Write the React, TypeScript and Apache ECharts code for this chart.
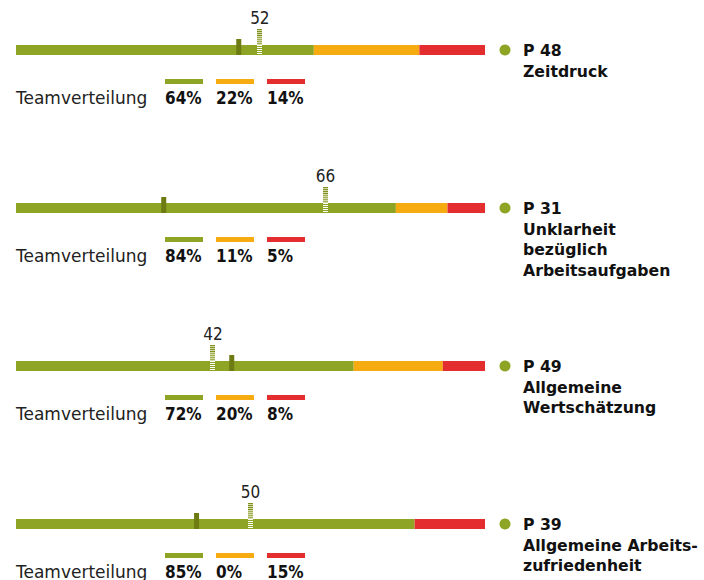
import React, { useEffect, useRef } from 'react';
import * as echarts from 'echarts';

const codes = ['P 48', 'P 31', 'P 49', 'P 39'];
const titles = [
  ['Zeitdruck'],
  ['Unklarheit', 'bezüglich', 'Arbeitsaufgaben'],
  ['Allgemeine', 'Wertschätzung'],
  ['Allgemeine Arbeits-', 'zufriedenheit'],
];
const greenShare = [63.5, 81, 72, 85];
const orangeShare = [22.5, 11, 19, 0];
const redShare = [14, 8, 9, 15];
const teamMarker = [47.5, 31.5, 46, 38.5];
const benchmark = [52, 66, 42, 50];
const teamLabels = [
  ['64%', '22%', '14%'],
  ['84%', '11%', '5%'],
  ['72%', '20%', '8%'],
  ['85%', '0%', '15%'],
];
const legendName = 'Teamverteilung';

const GREEN = '#8ea425';
const ORANGE = '#f6ac10';
const RED = '#e42d2e';
const DARK = '#6d7b12';
const FONT = '"DejaVu Sans", sans-serif';
const CFONT = '"DejaVu Sans Condensed", "DejaVu Sans", sans-serif';

export default function App() {
  const ref = useRef<HTMLDivElement>(null);
  useEffect(() => {
    const chart = echarts.init(ref.current!, null, { renderer: 'svg' });
    const grid: any[] = [];
    const xAxis: any[] = [];
    const yAxis: any[] = [];
    const series: any[] = [];
    const graphic: any[] = [];
    const segColors = [GREEN, ORANGE, RED];
    const segArrays = [greenShare, orangeShare, redShare];

    codes.forEach((code, i) => {
      const top = 45 + i * 158;
      grid.push({ left: 16, top, width: 469, height: 10 });
      xAxis.push({ type: 'value', min: 0, max: 100, gridIndex: i, show: false });
      yAxis.push({ type: 'category', data: [code], gridIndex: i, show: false });
      segArrays.forEach((arr, k) => {
        series.push({
          type: 'bar',
          xAxisIndex: i,
          yAxisIndex: i,
          stack: 'st' + i,
          barWidth: 10,
          data: [arr[i]],
          itemStyle: { color: segColors[k] },
          silent: true,
        });
      });
      // team marker (dark)
      series.push({
        type: 'custom',
        xAxisIndex: i,
        yAxisIndex: i,
        data: [[teamMarker[i], 0]],
        renderItem: (params: any, api: any) => {
          const p = api.coord([api.value(0), 0]);
          const bt = p[1] - 5;
          return {
            type: 'rect',
            shape: { x: p[0] - 2.5, y: bt - 6, width: 5, height: 16 },
            style: { fill: DARK },
          };
        },
        z: 5,
      });
      // benchmark marker (hatched) + label
      series.push({
        type: 'custom',
        xAxisIndex: i,
        yAxisIndex: i,
        data: [[benchmark[i], 0]],
        renderItem: (params: any, api: any) => {
          const p = api.coord([api.value(0), 0]);
          const bt = p[1] - 5;
          const x0 = Math.round(p[0] - 2.5);
          const children: any[] = [];
          const topY = bt - 16;
          children.push({
            type: 'rect',
            shape: { x: x0, y: topY, width: 5, height: 16 },
            style: { fill: '#d3d9a8' },
          });
          for (let y = topY; y < bt + 10; y += 2) {
            const frac = (y - topY) / 16;
            children.push({
              type: 'rect',
              shape: { x: x0, y, width: 5, height: 1 },
              style: {
                fill: y < bt ? (frac < 0.5 ? '#7f9020' : '#a3b055') : '#ffffff',
              },
            });
          }
          children.push({
            type: 'text',
            x: p[0],
            y: bt - 27.5,
            style: {
              text: String(api.value(0)),
              font: `17px ${CFONT}`,
              fill: '#222',
              align: 'center',
              verticalAlign: 'middle',
            },
          });
          return { type: 'group', children };
        },
        z: 6,
      });

      // right-hand labels
      graphic.push({
        type: 'circle',
        shape: { cx: 505, cy: top + 5, r: 5.5 },
        style: { fill: GREEN },
      });
      [code, ...titles[i]].forEach((line, j) => {
        graphic.push({
          type: 'text',
          x: 523,
          y: top + 5.5 + j * 20.5,
          style: {
            text: line,
            font: `bold 15.7px ${FONT}`,
            fill: '#111',
            verticalAlign: 'middle',
          },
        });
      });
      // legend
      graphic.push({
        type: 'text',
        x: 16,
        y: top + 52.5,
        style: {
          text: legendName,
          font: `17px ${FONT}`,
          fill: '#222',
          verticalAlign: 'middle',
        },
      });
      [165, 216, 267].forEach((lx, k) => {
        graphic.push({
          type: 'rect',
          shape: { x: lx, y: top + 34, width: 38, height: 5 },
          style: { fill: segColors[k] },
        });
        graphic.push({
          type: 'text',
          x: lx,
          y: top + 52.5,
          style: {
            text: teamLabels[i][k],
            font: `bold 17px ${CFONT}`,
            fill: '#111',
            verticalAlign: 'middle',
          },
        });
      });
    });

    chart.setOption({
      animation: false,
      backgroundColor: '#fff',
      grid,
      xAxis,
      yAxis,
      series,
      graphic,
    });
    return () => chart.dispose();
  }, []);
  return (
    <div
      ref={ref}
      style={{ position: 'absolute', left: 0, top: 0, width: 704, height: 580 }}
    />
  );
}
